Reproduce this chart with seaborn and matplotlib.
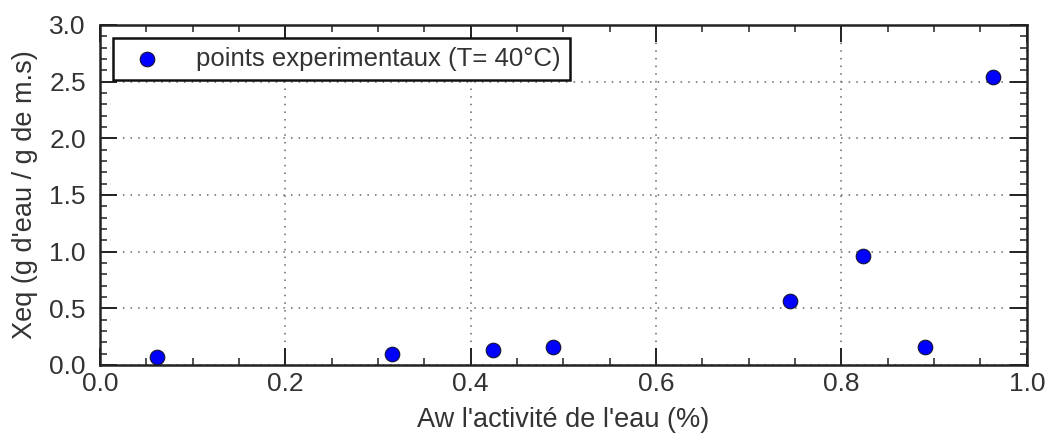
import numpy as np
import pandas as pd
import matplotlib
matplotlib.use("Agg")
import matplotlib.pyplot as plt
from matplotlib.ticker import MultipleLocator
import seaborn as sns

# Data
aw = [0.062, 0.315, 0.424, 0.489, 0.745, 0.823, 0.890, 0.963]
xeq = [0.07, 0.10, 0.13, 0.16, 0.56, 0.96, 0.16, 2.54]
serie_label = "points experimentaux (T= 40°C)"

df = pd.DataFrame({"aw": aw, "xeq": xeq})

sns.set_style("ticks")
plt.rcParams['font.family'] = ['Liberation Sans', 'DejaVu Sans']
plt.rcParams['axes.unicode_minus'] = False

fig = plt.figure(figsize=(10.51, 4.37), dpi=100)
ax = fig.add_axes([0.095, 0.165, 0.882, 0.778])

sns.scatterplot(data=df, x="aw", y="xeq", ax=ax, s=110, color="#0000ff",
                edgecolor="#111133", linewidth=0.8, label=serie_label, zorder=3)

ax.set_xlim(0, 1.0)
ax.set_ylim(0, 3.0)
ax.xaxis.set_major_locator(MultipleLocator(0.2))
ax.xaxis.set_minor_locator(MultipleLocator(0.05))
ax.yaxis.set_major_locator(MultipleLocator(0.5))
ax.yaxis.set_minor_locator(MultipleLocator(0.1))

ax.tick_params(which="both", direction="in", top=True, right=True, colors="#222222",
               labelcolor="#333333", labelsize=19)
ax.tick_params(which="major", length=12, width=1.4)
ax.tick_params(which="minor", length=5, width=1.1)
ax.tick_params(axis="x", which="major", pad=5)
ax.tick_params(axis="y", which="major", pad=10)
for sp in ax.spines.values():
    sp.set_linewidth(1.8)
    sp.set_color("#222222")

ax.grid(True, which="major", linestyle=(0, (1, 4)), color="#666666", linewidth=1.1)

ax.set_xlabel("Aw l'activité de l'eau (%)", fontsize=19.5, color="#333333", labelpad=8)
ax.set_ylabel("Xeq (g d'eau / g de m.s)", fontsize=19.5, color="#333333", labelpad=8)

leg = ax.legend(loc="upper left", fontsize=18.5, frameon=True, fancybox=False,
                borderpad=0.35, handletextpad=0.9, borderaxespad=0.5,
                markerscale=1.0)
leg.get_frame().set_edgecolor("#111111")
leg.get_frame().set_linewidth(1.8)
leg.get_frame().set_alpha(1.0)
for t in leg.get_texts():
    t.set_color("#333333")

fig.savefig("out.png", dpi=100)
